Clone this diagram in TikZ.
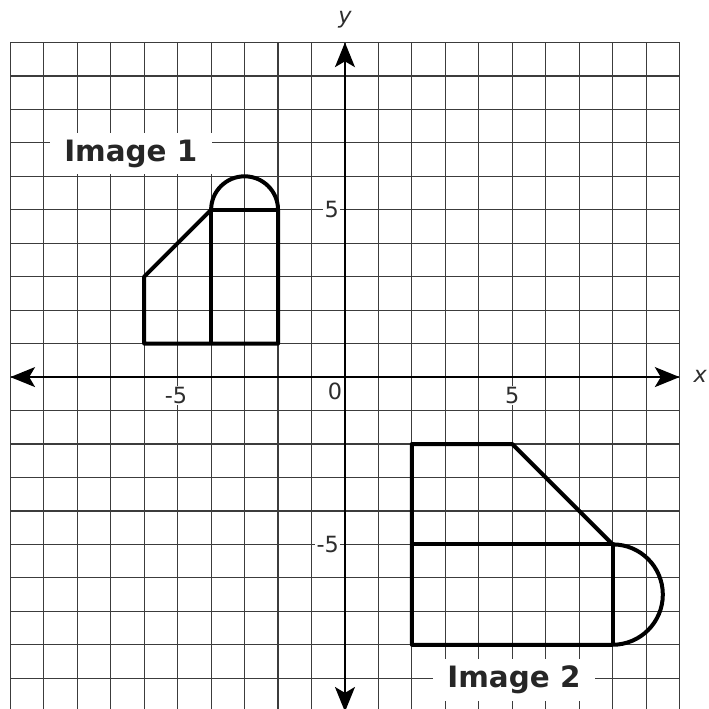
\documentclass[tikz,border=0pt]{standalone}
\usepackage{fontspec}
\setmainfont{DejaVu Sans}
\usetikzlibrary{arrows.meta}
\definecolor{gridgray}{RGB}{60,60,60}
\definecolor{labelgray}{RGB}{45,45,45}

\begin{document}
\begin{tikzpicture}[every node/.style={font=\fontsize{19}{22}\selectfont, text=labelgray},
    gridline/.style={draw=gridgray, line width=1pt},
    axisline/.style={draw=black, line width=1.5pt,
      {Stealth[length=21pt,width=17pt,inset=5pt]}-{Stealth[length=21pt,width=17pt,inset=5pt]}},
    figline/.style={draw=black, line width=3.4pt, line join=round},
    ticklabel/.style={fill=white, inner sep=1pt},
    imagelabel/.style={fill=white, font=\fontsize{25}{30}\selectfont\bfseries, text=black!85,
      minimum width=4.83cm, minimum height=1.25cm, inner sep=0pt}]
  \useasboundingbox (-10.31,-9.9) rectangle (10.88,11.27);

  % grid
  \foreach \i in {-10,...,10} {
    \draw[gridline] (\i,-10) -- (\i,10);
    \draw[gridline] (-10,\i) -- (10,\i);
  }

  % axes
  \draw[axisline] (-10,0) -- (10,0);
  \draw[axisline] (0,-10) -- (0,10);
  \node[font=\fontsize{19}{22}\selectfont\itshape] (xlabel) at (10.62,0.02) {x};
  \node[font=\fontsize{19}{22}\selectfont\itshape] (ylabel) at (0,10.67) {y};

  % tick labels
  \node[ticklabel] (xminus) at (-5.05,-0.55) {-5};
  \node[ticklabel] (xplus) at (5,-0.55) {5};
  \node[ticklabel] (origin) at (-0.3,-0.42) {0};
  \node[ticklabel, anchor=east] (yplus) at (-0.14,5) {5};
  \node[ticklabel, anchor=east] (yminus) at (-0.14,-5) {-5};

  % labels
  \node[imagelabel] (imgone) at (-6.4,6.68) {Image 1};
  \node[imagelabel] (imgtwo) at (5.05,-9.06) {Image 2};

  % image 1
  \draw[figline] (-6,1) -- (-2,1) -- (-2,5) arc[start angle=0, end angle=180, radius=1]
    -- (-6,3) -- cycle;
  \draw[figline] (-4,1) -- (-4,5) -- (-2,5);

  % image 2
  \draw[figline] (2,-8) -- (8,-8) arc[start angle=-90, end angle=90, radius=1.5]
    -- (5,-2) -- (2,-2) -- cycle;
  \draw[figline] (2,-5) -- (8,-5) -- (8,-8);
\end{tikzpicture}
\end{document}
